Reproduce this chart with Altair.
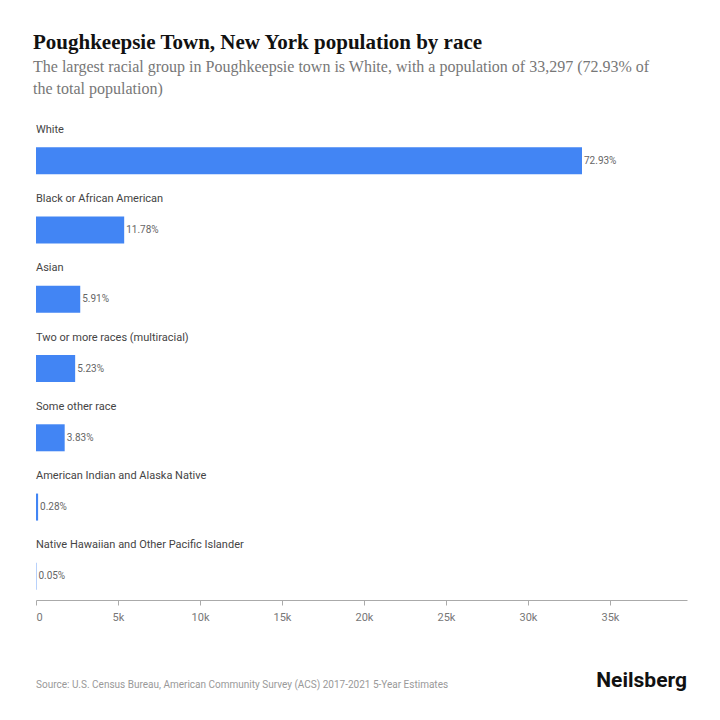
import altair as alt
import pandas as pd

races = [
    "White",
    "Black or African American",
    "Asian",
    "Two or more races (multiracial)",
    "Some other race",
    "American Indian and Alaska Native",
    "Native Hawaiian and Other Pacific Islander",
]
population = [33297, 5378, 2698, 2388, 1749, 128, 23]
shares = ["72.93%", "11.78%", "5.91%", "5.23%", "3.83%", "0.28%", "0.05%"]
tick_values = [0, 5000, 10000, 15000, 20000, 25000, 30000, 35000]

df = pd.DataFrame({"race": races, "population": population, "share": shares})

W, H = 651, 485
bar_color = "#4285f4"

x_scale = alt.Scale(domain=[0, 39700], nice=False, zero=True)
y_enc = alt.Y("race:N", sort=races, axis=None,
              scale=alt.Scale(paddingInner=0, paddingOuter=0))

base = alt.Chart(df)

bars = base.mark_bar(color=bar_color, height=27, yOffset=11).encode(
    x=alt.X("population:Q", scale=x_scale,
            axis=alt.Axis(values=tick_values, title=None, grid=False,
                          labelExpr="datum.value == 0 ? '0' : datum.value / 1000 + 'k'",
                          labelColor="#777", labelFont="Roboto", labelFontSize=11,
                          labelPadding=6, domainColor="#aaa", tickColor="#aaa",
                          tickSize=5)),
    y=y_enc,
    tooltip=["race:N", "population:Q", "share:N"],
)

values = base.mark_text(align="left", baseline="middle", dx=2, dy=11,
                        font="Roboto", fontSize=10, color="#666").encode(
    x=alt.X("population:Q", scale=x_scale),
    y=y_enc,
    text="share:N",
)

labels = base.mark_text(align="left", baseline="middle", dy=-20,
                        font="Roboto", fontSize=11, color="#444").encode(
    x=alt.value(0),
    y=y_enc,
    text="race:N",
)

source = alt.Chart(pd.DataFrame({"t": ["Source: U.S. Census Bureau, American Community Survey (ACS) 2017-2021 5-Year Estimates"]})).mark_text(
    align="left", baseline="middle", font="Roboto", fontSize=10, color="#999"
).encode(x=alt.value(0), y=alt.value(570), text="t:N")

brand = alt.Chart(pd.DataFrame({"t": ["Neilsberg"]})).mark_text(
    align="right", baseline="middle", font="Roboto", fontSize=21,
    fontWeight="bold", color="#111"
).encode(x=alt.value(W), y=alt.value(566), text="t:N")

chart = (bars + values + labels + source + brand).properties(
    width=W,
    height=H,
    autosize=alt.AutoSizeParams(type="none"),
    padding={"left": 28, "top": 107, "right": 25, "bottom": 100},
    title=alt.TitleParams(
        "Poughkeepsie Town, New York population by race",
        subtitle=["The largest racial group in Poughkeepsie town is White, with a population of 33,297 (72.93% of",
                  "the total population)"],
        anchor="start", frame="group", offset=18,
        font="Liberation Serif", fontSize=21, fontWeight="bold", color="#111",
        subtitleFont="Liberation Serif", subtitleFontSize=16, subtitleColor="#777",
        subtitlePadding=6, subtitleLineHeight=22, dx=-3,
    ),
).configure_view(stroke=None)

chart.save("out.html", embed_options={"renderer": "svg", "actions": False})
